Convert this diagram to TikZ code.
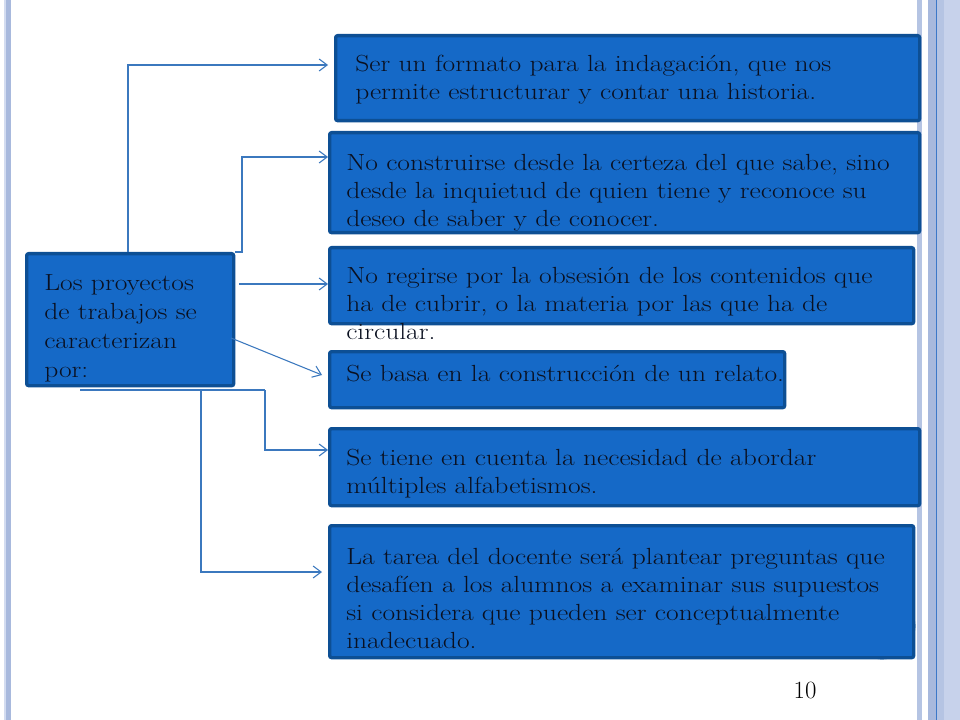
\documentclass[tikz,border=0pt]{standalone}
\usetikzlibrary{arrows.meta}
\definecolor{boxfill}{HTML}{1569C7}
\definecolor{boxline}{HTML}{0D4F94}
\definecolor{conn}{HTML}{3B78BE}
\definecolor{deco}{HTML}{B5C4E3}
\definecolor{decolight}{HTML}{D3DCF0}
\definecolor{decodark}{HTML}{A8B9DD}
\definecolor{decoline}{HTML}{3C78C8}
\definecolor{ink}{HTML}{0A1020}
\newcommand{\widetext}[2][21]{{\color{ink}\fontsize{17.5}{#1}\selectfont\scalebox{1.18}[1]{\begin{tabular}{@{}l@{}}#2\end{tabular}}}}
\tikzset{
  card/.style={draw=boxline, fill=boxfill, line width=2.5pt, rounded corners=1.5pt, inner sep=0pt, anchor=north west},
  txt/.style={anchor=north west, inner sep=0pt, align=left},
  link/.style={draw=conn, line width=0.8pt},
  arr/.style={link, -{Straight Barb[length=6pt,width=9pt,line width=0.8pt]}}
}
\begin{document}
\begin{tikzpicture}[x=0.75pt,y=-0.75pt]
\useasboundingbox (0,0) rectangle (960,720);
\fill[white] (0,0) rectangle (960,720);
% decoration
\fill[decolight] (4,0) rectangle (6,720);
\fill[decodark] (6,0) rectangle (11,720);
\fill[deco] (917,0) rectangle (922,720);
\fill[decodark] (928,0) rectangle (936,720);
\fill[deco] (936,0) rectangle (960,720);
\fill[decolight!60!deco] (944,0) rectangle (960,720);
\draw[decoline, line width=0.75pt] (936,0) -- (936,720);
% background circle
\node[circle, draw=boxline, fill=boxfill, line width=2pt, minimum size=64*0.75pt, inner sep=0pt] (circ) at (882,626) {};
% boxes
\node[card, minimum width=584*0.75pt, minimum height=85*0.75pt] (b1) at (334,34) {};
\node[card, minimum width=590*0.75pt, minimum height=100*0.75pt] (b2) at (328,131) {};
\node[card, minimum width=584*0.75pt, minimum height=76*0.75pt] (b3) at (328,246) {};
\node[card, minimum width=455*0.75pt, minimum height=56*0.75pt] (b4) at (328,350) {};
\node[card, minimum width=590*0.75pt, minimum height=77*0.75pt] (b5) at (328,427) {};
\node[card, minimum width=584*0.75pt, minimum height=132*0.75pt] (b6) at (328,524) {};
\node[card, minimum width=207*0.75pt, minimum height=132*0.75pt] (L) at (25,252) {};
% texts
\node[txt] (t1) at (355,52) {\widetext{Ser un formato para la indagación, que nos\\permite estructurar y contar una historia.}};
\node[txt] (t2) at (346,151) {\widetext{No construirse desde la certeza del que sabe, sino\\desde la inquietud de quien tiene y reconoce su\\deseo de saber y de conocer.}};
\node[txt] (t3) at (346,264) {\widetext{No regirse por la obsesión de los contenidos que\\ha de cubrir, o la materia por las que ha de\\circular.}};
\node[txt] (t4) at (346,362) {\widetext{Se basa en la construcción de un relato.}};
\node[txt] (t5) at (346,446) {\widetext{Se tiene en cuenta la necesidad de abordar\\múltiples alfabetismos.}};
\node[txt] (t6) at (346,545) {\widetext{La tarea del docente será plantear preguntas que\\desafíen a los alumnos a examinar sus supuestos\\si considera que pueden ser conceptualmente\\inadecuado.}};
\node[txt] (tL) at (44,270) {\widetext[21.75]{Los proyectos\\de trabajos se\\caracterizan\\por:}};
\node[anchor=base, inner sep=0pt, font=\fontsize{18.6}{22}\selectfont] (pg) at (805,698) {10};
% connector points
\coordinate (e1) at (328,65);
\coordinate (e2) at (328,157);
\coordinate (s3) at (239,284);
\coordinate (e3) at (328,284);
\coordinate (s4) at (231,338);
\coordinate (e4) at (322,375);
\coordinate (h0) at (80,390);
\coordinate (e5) at (328,450);
\coordinate (e6) at (322,572);
% connectors
\draw[arr] (L.north -| 128,0) -- (128,65) -- (e1);
\draw[arr] (L.north east) -- (242,252) -- (242,157) -- (e2);
\draw[arr] (s3) -- (e3);
\draw[arr] (s4) -- (e4);
\draw[link] (h0) -- (265,390);
\draw[arr] (265,390) -- (265,450) -- (e5);
\draw[arr] (201,390) -- (201,572) -- (e6);
\end{tikzpicture}
\end{document}
